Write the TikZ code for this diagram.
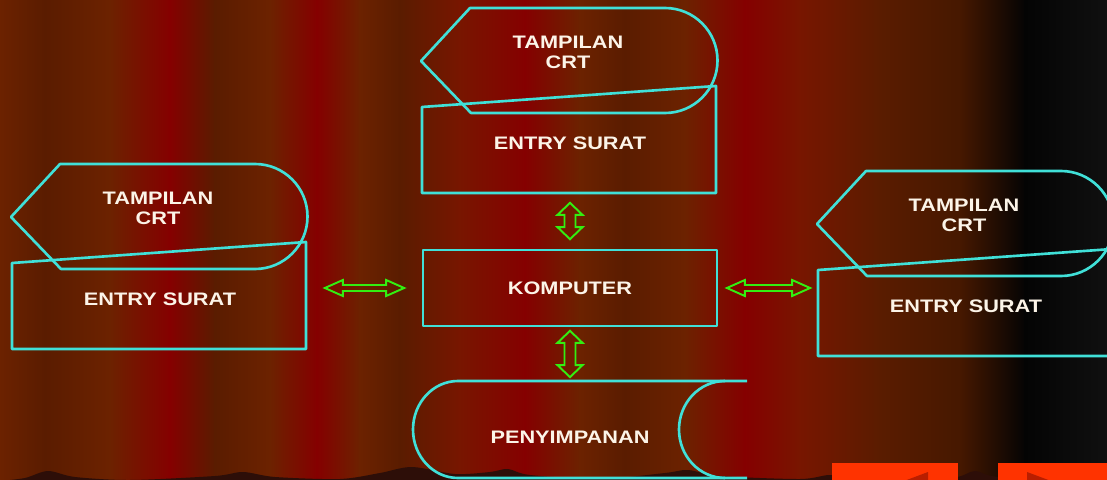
\documentclass[tikz,border=0pt]{standalone}
\usepackage{fontspec}
\newfontfamily\slidefont[FakeStretch=1.2]{Liberation Sans}
\definecolor{slideCyan}{RGB}{64,224,216}
\definecolor{slideGreen}{RGB}{51,238,17}
\definecolor{slideText}{RGB}{252,244,232}
\definecolor{curtRed}{RGB}{133,0,0}
\definecolor{curtBrown}{RGB}{108,34,0}
\definecolor{curtDark}{RGB}{90,28,0}
\definecolor{curtMid}{RGB}{120,22,0}
\definecolor{curtDeep}{RGB}{70,24,0}
\definecolor{curtBlack}{RGB}{4,4,4}
\definecolor{curtGrey}{RGB}{16,16,16}
\definecolor{groundDark}{RGB}{45,14,8}
\definecolor{navOrange}{RGB}{255,51,0}
\definecolor{navDark}{RGB}{185,30,0}
\usetikzlibrary{calc}

\begin{document}
\begin{tikzpicture}[x=0.2mm, y=-0.2mm,
    outline/.style={draw=slideCyan, line width=1.5pt, line join=round},
    lbl/.style={font=\slidefont\bfseries\fontsize{10.3}{11.5}\selectfont,
                text=slideText, align=center},
    box/.style={lbl, inner sep=0pt},
    dbl/.style n args={4}{draw=slideGreen, line width=1.1pt, to path={
        ($(\tikztostart)!#1!(\tikztotarget)$)
        -- ($(\tikztostart)!#1+#2!(\tikztotarget)!#3!90:(\tikztotarget)$)
        -- ($(\tikztostart)!#1+#2!(\tikztotarget)!#4!90:(\tikztotarget)$)
        -- ($(\tikztotarget)!#1+#2!(\tikztostart)!#4!-90:(\tikztostart)$)
        -- ($(\tikztotarget)!#1+#2!(\tikztostart)!#3!-90:(\tikztostart)$)
        -- ($(\tikztotarget)!#1!(\tikztostart)$)
        -- ($(\tikztotarget)!#1+#2!(\tikztostart)!#3!90:(\tikztostart)$)
        -- ($(\tikztotarget)!#1+#2!(\tikztostart)!#4!90:(\tikztostart)$)
        -- ($(\tikztostart)!#1+#2!(\tikztotarget)!#4!-90:(\tikztotarget)$)
        -- ($(\tikztostart)!#1+#2!(\tikztotarget)!#3!-90:(\tikztotarget)$)
        -- cycle}},
    varrow/.style={dbl={#1}{2.4mm}{2.5mm}{1.1mm}},
    harrow/.style={dbl={#1}{3.6mm}{1.6mm}{0.6mm}}
  ]
  \useasboundingbox (0,0) rectangle (1107,480);
  \clip (0,0) rectangle (1107,480);

  % curtain
  \fill[curtMid] (0,0) rectangle (1107,480);
  \foreach \xa/\ca/\xb/\cb in {0/curtBrown/45/curtDark, 45/curtDark/110/curtBrown,
      110/curtBrown/170/curtRed, 170/curtRed/215/curtDark, 215/curtDark/270/curtBrown,
      270/curtBrown/317/curtRed, 317/curtRed/360/curtBrown, 360/curtBrown/400/curtDark,
      400/curtDark/460/curtMid, 460/curtMid/525/curtRed, 525/curtRed/580/curtBrown,
      580/curtBrown/625/curtDark, 625/curtDark/685/curtBrown, 685/curtBrown/745/curtRed,
      745/curtRed/800/curtMid, 800/curtMid/880/curtDark, 880/curtDark/960/curtDeep,
      960/curtDeep/1025/curtBlack, 1025/curtBlack/1107/curtGrey}
    \shade[left color=\ca, right color=\cb] (\xa-0.5,0) rectangle (\xb+0.5,480);

  \fill[groundDark] (0,481) -- plot[smooth] coordinates {(0,481) (25,478) (48,471)
      (75,477) (130,480) (215,476) (243,472) (275,477) (340,479) (380,473) (412,467)
      (455,474) (490,472) (508,469) (530,475) (600,479) (665,473) (688,470) (720,476)
      (800,479) (830,475) (860,479) (950,478) (975,471) (1000,477) (1107,479)}
    -- (1107,481) -- cycle;

  \fill[navOrange] (832,463) rectangle (958,480);
  \fill[navOrange] (998,463) rectangle (1107,480);
  \fill[navDark] (928,472) -- (928,508) -- (880,490) -- cycle;
  \fill[navDark] (1027,472) -- (1027,508) -- (1075,490) -- cycle;

  % display + manual input, three times
  \foreach \dx/\dy/\g in {0/0/T, -410/156/L, 396/163/R}{
    \begin{scope}[shift={(\dx,\dy)}]
      \draw[outline] (421,61) -- (470,8) -- (665,8)
        arc[start angle=-90, end angle=90, radius=52.5] -- (471,113) -- cycle;
      \draw[outline] (422,107) -- (716,86) -- (716,193) -- (422,193) -- cycle;
      \node[lbl] (crt\g) at (568,52) {TAMPILAN\\CRT};
      \node[box, minimum width=58.8mm, minimum height=20mm] (entry\g) at (570,143) {ENTRY SURAT};
    \end{scope}
  }

  \node[box, outline, minimum width=58.8mm, minimum height=15.2mm] (komp) at (570,288) {KOMPUTER};

  \draw[outline] (747,381) -- (458,381)
    arc[start angle=-90, end angle=-270, x radius=45, y radius=48.5] -- (747,478);
  \draw[outline] (725,381) arc[start angle=-90, end angle=-270, x radius=46, y radius=48.5];
  \node[box, minimum width=63.6mm, minimum height=22.4mm] (simpan) at (570,437) {PENYIMPANAN};

  \draw[varrow=1.9mm] (entryT.south) to (komp.north);
  \draw[varrow=0.7mm] (komp.south) to (simpan.north);
  \draw[harrow=3.5mm] (entryL.east |- komp.west) to (komp.west);
  \draw[harrow=1.7mm] (komp.east) to (komp.east -| entryR.west);
\end{tikzpicture}
\end{document}
